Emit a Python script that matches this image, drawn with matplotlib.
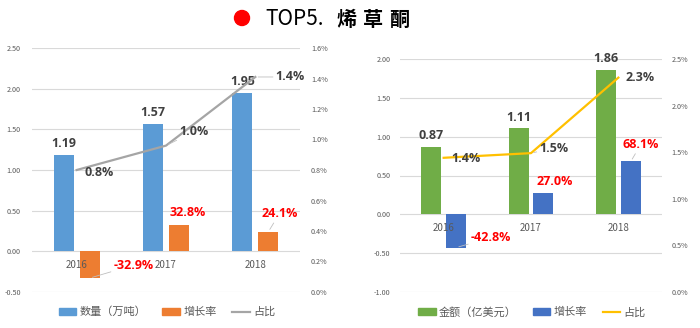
import matplotlib
matplotlib.use("Agg")
import matplotlib.pyplot as plt
from matplotlib.patches import Patch, Circle
from matplotlib.lines import Line2D
import matplotlib.ticker as mticker

plt.rcParams['font.family'] = ['Noto Sans CJK SC', 'DejaVu Sans']

years = ["2016", "2017", "2018"]
# left chart
qty = [1.19, 1.57, 1.95]            # 数量（万吨）
qty_growth = [-0.329, 0.328, 0.241] # 增长率
qty_share = [0.80, 0.96, 1.41]      # 占比 (%)
qty_share_lbl = ["0.8%", "1.0%", "1.4%"]
# right chart
amt = [0.87, 1.11, 1.86]            # 金额（亿美元）
amt_growth = [-0.428, 0.270, 0.681] # 增长率
amt_share = [1.44, 1.49, 2.30]      # 占比 (%)
amt_share_lbl = ["1.4%", "1.5%", "2.3%"]

W, H = 700, 328
fig = plt.figure(figsize=(7.0, 3.28), dpi=100)

GRID = '#D9D9D9'
TICK = '#595959'
DARK = '#404040'
RED = '#FF0000'
LEAD = '#BFBFBF'


def setup(ax, ax2, ylim, yticks, y2lim, y2ticks, pad):
    ax.set_xlim(-0.5, 2.5)
    ax.set_ylim(*ylim)
    ax.set_yticks(yticks)
    ax.yaxis.set_major_formatter(mticker.FormatStrFormatter('%.2f'))
    ax.grid(axis='y', color=GRID, lw=0.8)
    ax.set_axisbelow(True)
    ax.set_xticks([])
    for s in ax.spines.values():
        s.set_visible(False)
    for s in ax2.spines.values():
        s.set_visible(False)
    ax.tick_params(axis='y', length=0, labelsize=5.2, labelcolor=TICK, pad=pad)
    ax2.set_ylim(*y2lim)
    ax2.set_yticks(y2ticks)
    ax2.yaxis.set_major_formatter(mticker.FormatStrFormatter('%.1f%%'))
    ax2.tick_params(axis='y', length=0, labelsize=5.2, labelcolor=TICK, pad=pad)
    for i, y in enumerate(years):
        ax.annotate(y, (i, 0), xytext=(0, -14), textcoords='offset pixels',
                    ha='center', va='center', fontsize=7, color=TICK)


def lab(ax, text, xy, off, color=DARK, lead=False):
    kw = {}
    if lead:
        kw['arrowprops'] = dict(arrowstyle='-', color=LEAD, lw=0.6,
                                shrinkA=0, shrinkB=2)
    ax.annotate(text, xy, xytext=off, textcoords='offset pixels',
                ha='center', va='center', fontsize=9, fontweight='bold',
                family=['Open Sans', 'DejaVu Sans'],
                color=color, **kw)


# ---------------- left chart ----------------
axL = fig.add_axes([32 / W, 36 / H, 268 / W, 244 / H])
axL2 = axL.twinx()
setup(axL, axL2, (-0.5, 2.5), [-0.5, 0, 0.5, 1.0, 1.5, 2.0, 2.5],
      (0, 1.6), [0, 0.2, 0.4, 0.6, 0.8, 1.0, 1.2, 1.4, 1.6], 8)
bw = 0.224
d = 0.146
xs = range(3)
axL.bar([i - d for i in xs], qty, width=bw, color='#5B9BD5', zorder=2)
axL.bar([i + d for i in xs], qty_growth, width=bw, color='#ED7D31', zorder=2)
axL2.plot(list(xs), qty_share, color='#A5A5A5', lw=1.6, zorder=3)

for i in xs:
    lab(axL, f"{qty[i]:.2f}", (i - d, qty[i]), (0, 11))
lab(axL2, qty_share_lbl[0], (0, qty_share[0]), (22, -2))
lab(axL2, qty_share_lbl[1], (1, qty_share[1]), (28, 14), lead=True)
lab(axL2, qty_share_lbl[2], (2, qty_share[2]), (35, 0), lead=True)
lab(axL, f"{qty_growth[0]*100:.1f}%", (0 + d, qty_growth[0]), (44, 13), RED, lead=True)
lab(axL, f"{qty_growth[1]*100:.1f}%", (1 + d, qty_growth[1]), (9, 12), RED)
lab(axL, f"{qty_growth[2]*100:.1f}%", (2 + d, qty_growth[2]), (11, 18), RED, lead=True)

legL = [Patch(color='#5B9BD5', label='数量（万吨）'),
        Patch(color='#ED7D31', label='增长率'),
        Line2D([], [], color='#A5A5A5', lw=1.6, label='占比')]
axL.legend(handles=legL, loc='center', bbox_to_anchor=(167 / W, 1 - 312 / H),
           bbox_transform=fig.transFigure, ncol=3, frameon=False,
           fontsize=8, handlelength=1.6, handleheight=0.6, handletextpad=0.3,
           columnspacing=1.4, labelcolor=TICK)

# ---------------- right chart ----------------
axR = fig.add_axes([400 / W, 36 / H, 262 / W, 233 / H])
axR2 = axR.twinx()
setup(axR, axR2, (-1.0, 2.0), [-1.0, -0.5, 0, 0.5, 1.0, 1.5, 2.0],
      (0, 2.5), [0, 0.5, 1.0, 1.5, 2.0, 2.5], 7)
bw = 0.229
d = 0.143
axR.bar([i - d for i in xs], amt, width=bw, color='#70AD47', zorder=2)
axR.bar([i + d for i in xs], amt_growth, width=bw, color='#4472C4', zorder=2)
axR2.plot(list(xs), amt_share, color='#FFC000', lw=1.6, zorder=3)

for i in xs:
    lab(axR, f"{amt[i]:.2f}", (i - d, amt[i]), (0, 11))
lab(axR2, amt_share_lbl[0], (0, amt_share[0]), (22, -1))
lab(axR2, amt_share_lbl[1], (1, amt_share[1]), (23, 5), lead=True)
lab(axR2, amt_share_lbl[2], (2, amt_share[2]), (22, 0))
lab(axR, f"{amt_growth[0]*100:.1f}%", (0 + d, amt_growth[0]), (35, 10), RED, lead=True)
lab(axR, f"{amt_growth[1]*100:.1f}%", (1 + d, amt_growth[1]), (11, 12), RED)
lab(axR, f"{amt_growth[2]*100:.1f}%", (2 + d, amt_growth[2]), (10, 17), RED, lead=True)

legR = [Patch(color='#70AD47', label='金额（亿美元）'),
        Patch(color='#4472C4', label='增长率'),
        Line2D([], [], color='#FFC000', lw=1.6, label='占比')]
axR.legend(handles=legR, loc='center', bbox_to_anchor=(532 / W, 1 - 312 / H),
           bbox_transform=fig.transFigure, ncol=3, frameon=False,
           fontsize=8, handlelength=1.6, handleheight=0.6, handletextpad=0.3,
           columnspacing=1.4, labelcolor=TICK)

# ---------------- title ----------------
fig.add_artist(Circle((2.42, (H - 18) / 100), 0.075, color=RED,
                      transform=fig.dpi_scale_trans))
fig.text(265 / W, 1 - 19 / H, "TOP5.", fontsize=15, ha='left', va='center',
         color='black')
for k, ch in enumerate("烯草酮"):
    fig.text((347 + 26 * k) / W, 1 - 19 / H, ch, fontsize=14.5, ha='center',
             va='center', color='black', fontweight='bold')

fig.savefig("out.png", dpi=100)
